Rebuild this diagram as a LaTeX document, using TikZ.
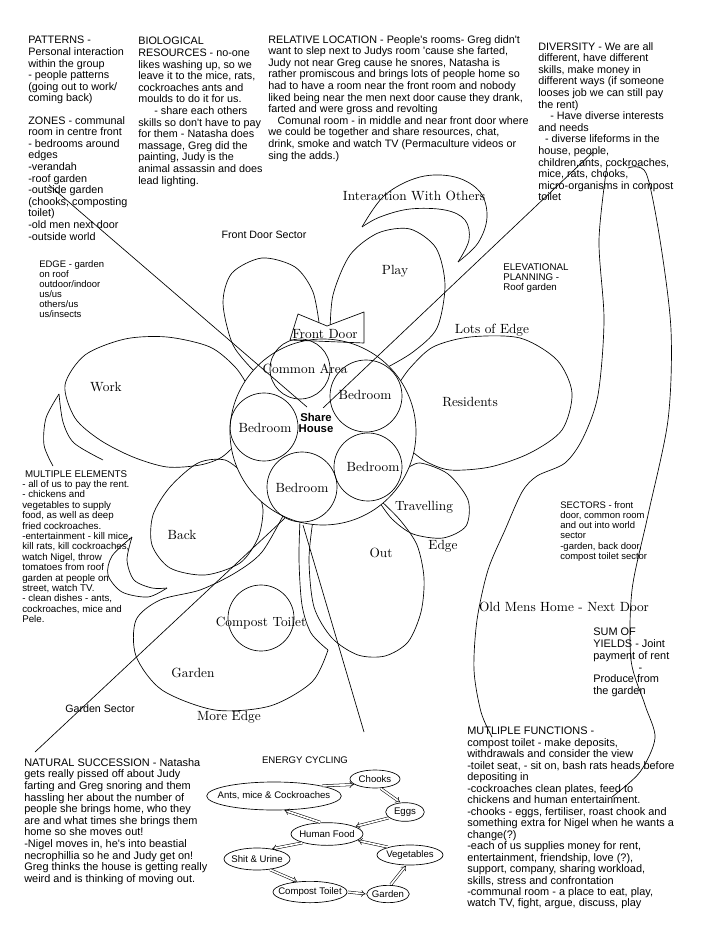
\documentclass[tikz,border=0pt]{standalone}
\usepackage{fontspec}
\newfontfamily\ars{Liberation Sans}
\usetikzlibrary{shapes.geometric,arrows.meta}
\begin{document}
\begin{tikzpicture}[x=0.75pt,y=-0.75pt,line width=0.5pt,line join=round,
  lab/.style={inner sep=0pt,font=\fontsize{10}{12}\selectfont},
  slab/.style={inner sep=0pt,font=\ars\fontsize{8}{9}\selectfont},
  blk/.style={anchor=north west,align=left,inner sep=0pt,font=\ars\fontsize{8.1}{8.7}\selectfont},
  room/.style={circle,draw,inner sep=0pt},
  ecell/.style={ellipse,draw,inner sep=0pt},
  etext/.style={inner sep=0pt,font=\ars\fontsize{7.2}{8}\selectfont},
  flow/.style={double,double distance=1.3pt,line width=0.4pt,-{Implies},shorten <=0.5pt,shorten >=0.5pt}]
\fill[white] (0,0) rectangle (700,930);
\useasboundingbox (0,0) rectangle (700,930);

% ---------- petals ----------
% top-left petal
\draw plot[smooth] coordinates {(255,372) (233,345) (223,303) (232,273) (262,258) (295,267) (313,292) (320,330)};
% play
\draw plot[smooth] coordinates {(330,335) (333,295) (350,255) (378,233) (410,229) (436,248) (445,285) (437,328) (413,352) (386,368)};
% interaction crescent
\draw plot[smooth,tension=0.6] coordinates {(362,227) (385,195) (420,177) (455,177) (480,192) (487,217) (478,243) (458,262)};
\draw plot[smooth,tension=0.6] coordinates {(458,262) (469,240) (465,220) (445,210) (410,209) (380,217) (362,227)};
% residents
\draw plot[smooth] coordinates {(398,385) (410,368) (433,347) (470,337) (520,338) (557,360) (572,393) (562,430) (530,453) (490,467) (450,470) (425,461) (408,448)};
% work
\draw plot[smooth] coordinates {(250,390) (236,368) (210,347) (167,337) (125,339) (85,355) (65,385) (75,418) (100,440) (133,457) (167,467) (200,465) (222,457) (240,440)};
% work tail
\draw plot[smooth] coordinates {(59,394) (46,418) (44,445) (53,466)};
\draw plot[smooth] coordinates {(59,394) (63,422) (74,443) (103,460)};
% back
\draw plot[smooth] coordinates {(245,475) (225,460) (198,463) (170,487) (153,515) (152,545) (170,568) (205,575) (240,563) (258,538) (263,510) (257,488)};
% back tail
\draw plot[smooth] coordinates {(132,537) (112,556) (108,575) (122,592) (148,597) (167,588)};
\draw plot[smooth] coordinates {(132,537) (127,560) (134,580) (152,588) (167,588)};
% travelling
\draw plot[smooth] coordinates {(405,470) (420,463) (448,474) (468,500) (466,526) (443,538) (413,534) (392,519) (378,500)};
% out
\draw plot[smooth] coordinates {(313,520) (309,560) (314,607) (332,638) (358,655) (385,656) (408,642) (421,612) (424,578) (417,545) (400,520) (380,500)};
% garden
\draw plot[smooth] coordinates {(300,520) (299,560) (302,605) (311,633) (328,650)};
\draw plot[smooth] coordinates {(328,650) (312,682) (270,706) (215,710) (162,690) (136,656) (136,620) (160,600) (200,590) (235,573) (262,552) (285,512)};
\node[room,minimum size=49.5pt] (toilet) at (261,618) {};

% ---------- right-hand curves ----------
\draw plot[smooth] coordinates {(607,165) (599,240) (604,320) (598,395) (583,438) (565,463) (537,476) (522,492) (505,530) (488,570) (477,620) (474,670) (481,712) (492,737)};
\draw plot[smooth] coordinates {(628,168) (646,173) (660,240) (671,330) (668,420) (648,515) (632,590) (631,660) (645,705) (655,738) (640,772) (612,797)};

% ---------- share house ----------
\node[circle,fill=white,inner sep=0pt,minimum size=139.5pt] (housefill) at (323,432) {};
\draw[fill=white] (298,314) -- (327,326) -- (364,312) -- (364,343) -- (290,340) -- cycle;
\node[room,minimum size=139.5pt] (house) at (323,432) {};
\node[room,minimum size=45pt] (common) at (300,369) {};
\node[room,minimum size=54pt] (bedtr) at (366,396) {};
\node[room,minimum size=51pt] (bedl) at (264,427) {};
\node[room,minimum size=52.5pt] (bedb) at (302,487) {};
\node[room,minimum size=51pt] (bedr) at (368,467) {};

% ---------- sector lines ----------
\coordinate (la1) at (49,185);  \coordinate (la2) at (307,407);
\coordinate (lb1) at (593,152); \coordinate (lb2) at (323,408);
\coordinate (lc1) at (285,518); \coordinate (lc2) at (35,752);
\coordinate (ld1) at (303,525); \coordinate (ld2) at (364,732);
\draw (la1) -- (la2);
\draw (lb1) -- (lb2);
\draw (lc1) -- (lc2);
\draw (ld1) -- (ld2);

% ---------- flower labels ----------
\node[lab] (tint) at (414,196) {Interaction With Others};
\node[slab] (tfds) at (264,235) {Front Door Sector};
\node[lab] (tplay) at (395,271) {Play};
\node[lab] (tfd) at (325,334) {Front Door};
\node[lab] (tloe) at (492,330) {Lots of Edge};
\node[lab] (tca) at (305,369) {Common Area};
\node[lab] (twork) at (106,387) {Work};
\node[lab] (tres) at (470,402) {Residents};
\node[lab] (tb1) at (365,395) {Bedroom};
\node[lab] (tb2) at (265,428) {Bedroom};
\node[inner sep=0pt,align=center,font=\ars\bfseries\fontsize{8.5}{8.5}\selectfont] (tsh) at (316,423) {Share\\House};
\node[lab] (tb3) at (373,467) {Bedroom};
\node[lab] (tb4) at (302,488) {Bedroom};
\node[lab] (tback) at (182,535) {Back};
\node[lab] (ttrav) at (424,507) {Travelling};
\node[lab] (tedge) at (443,546) {Edge};
\node[lab] (tout) at (381,553) {Out};
\node[lab] (tct) at (261,623) {Compost Toilet};
\node[lab] (tgar) at (193,673) {Garden};
\node[lab] (tme) at (229,717) {More Edge};
\node[slab] (tgs) at (100,709) {Garden Sector};
\node[lab] (tomh) at (564,607) {Old Mens Home - Next Door};

% ---------- text blocks ----------
\node[blk] (patterns) at (28,36) {PATTERNS -\\Personal interaction\\within the group\\- people patterns\\(going out to work/\\coming back)};
\node[blk] (zones) at (28,116) {ZONES - communal\\room in centre front\\- bedrooms around\\edges\\-verandah\\-roof garden\\-outside garden\\(chooks, composting\\toilet)\\-old men next door\\-outside world};
\node[blk] (bio) at (138,37) {BIOLOGICAL\\RESOURCES - no-one\\likes washing up, so we\\leave it to the mice, rats,\\cockroaches ants and\\moulds to do it for us.\\\hspace*{12pt}- share each others\\skills so don't have to pay\\for them - Natasha does\\massage, Greg did the\\painting, Judy is the\\animal assassin and does\\lead lighting.};
\node[blk] (rel) at (268,35) {RELATIVE LOCATION - People's rooms- Greg didn't\\want to slep next to Judys room 'cause she farted,\\Judy not near Greg cause he snores, Natasha is\\rather promiscous and brings lots of people home so\\had to have a room near the front room and nobody\\liked being near the men next door cause they drank,\\farted and were gross and revolting\\\hspace*{7pt}Comunal room - in middle and near front door where\\we could be together and share resources, chat,\\drink, smoke and watch TV (Permaculture videos or\\sing the adds.)};
\node[blk] (div) at (538,42) {DIVERSITY - We are all\\different, have different\\skills, make money in\\different ways (if someone\\looses job we can still pay\\the rent)\\\hspace*{9pt}- Have diverse interests\\and needs\\\hspace*{5pt}- diverse lifeforms in the\\house, people,\\children,ants, cockroaches,\\mice, rats, chooks,\\micro-organisms in compost\\toilet};
\node[blk,font=\ars\fontsize{7.1}{7.5}\selectfont] (edge) at (39,260) {EDGE - garden\\on roof\\outdoor/indoor\\us/us\\others/us\\us/insects};
\node[blk,font=\ars\fontsize{7.3}{7.8}\selectfont] (melem) at (22,470) {\hspace*{2pt}MULTIPLE ELEMENTS\\- all of us to pay the rent.\\- chickens and\\vegetables to supply\\food, as well as deep\\fried cockroaches.\\-entertainment - kill mice,\\kill rats, kill cockroaches,\\watch Nigel, throw\\tomatoes from roof\\garden at people on\\street, watch TV.\\- clean dishes - ants,\\cockroaches, mice and\\Pele.};
\node[blk,font=\ars\fontsize{7.3}{7.7}\selectfont] (elev) at (503,263) {ELEVATIONAL\\PLANNING -\\Roof garden};
\node[blk,font=\ars\fontsize{7.1}{7.7}\selectfont] (sect) at (560,501) {SECTORS - front\\door, common room\\and out into world\\sector\\-garden, back door,\\compost toilet sector};
\node[blk,font=\ars\fontsize{8.2}{8.8}\selectfont] (sum) at (593,628) {SUM OF\\YIELDS - Joint\\payment of rent\\\hspace*{34pt}-\\Produce from\\the garden};
\node[blk,font=\ars\fontsize{8.2}{8.6}\selectfont] (mfun) at (467,727) {MUTLIPLE FUNCTIONS -\\compost toilet - make deposits,\\withdrawals and consider the view\\-toilet seat, - sit on, bash rats heads before\\depositing in\\-cockroaches clean plates, feed to\\chickens and human entertainment.\\-chooks - eggs, fertiliser, roast chook and\\something extra for Nigel when he wants a\\change(?)\\-each of us supplies money for rent,\\entertainment, friendship, love (?),\\support, company, sharing workload,\\skills, stress and confrontation\\-communal room - a place to eat, play,\\watch TV, fight, argue, discuss, play};
\node[blk,font=\ars\fontsize{8.2}{8.7}\selectfont] (nat) at (24,758) {NATURAL SUCCESSION - Natasha\\gets really pissed off about Judy\\farting and Greg snoring and them\\hassling her about the number of\\people she brings home, who they\\are and what times she brings them\\home so she moves out!\\-Nigel moves in, he's into beastial\\necrophillia so he and Judy get on!\\Greg thinks the house is getting really\\weird and is thinking of moving out.};

% ---------- energy cycling ----------
\node[etext] (etitle) at (305,760) {ENERGY CYCLING};
\node[ecell,minimum width=37.5pt,minimum height=13.5pt] (chk) at (375,779) {};
\node[ecell,minimum width=101pt,minimum height=21pt] (ants) at (274,796) {};
\node[ecell,minimum width=29pt,minimum height=14pt] (eggs) at (405,812) {};
\node[ecell,minimum width=54pt,minimum height=17pt] (hf) at (327,834) {};
\node[ecell,minimum width=49.5pt,minimum height=16.5pt] (shit) at (257,859) {};
\node[ecell,minimum width=49.5pt,minimum height=15pt] (veg) at (410,855) {};
\node[ecell,minimum width=55.5pt,minimum height=16pt] (ect) at (310,892) {};
\node[ecell,minimum width=32pt,minimum height=13pt] (gdn) at (388,894) {};
\node[etext] (tchk) at (chk) {Chooks};
\node[etext] (tants) at (ants) {Ants, mice \& Cockroaches};
\node[etext] (teggs) at (eggs) {Eggs};
\node[etext] (thf) at (hf) {Human Food};
\node[etext] (tshit) at (shit) {Shit \& Urine};
\node[etext] (tveg) at (veg) {Vegetables};
\node[etext] (tect) at (ect) {Compost Toilet};
\node[etext] (tgdn) at (gdn) {Garden};
\draw[flow] (ants.12) -- (chk.195);
\draw[flow] (chk.-60) -- (eggs.115);
\draw[flow] (eggs.200) -- (hf.15);
\draw[flow] (hf.118) -- (ants.-55);
\draw[flow] (hf.200) -- (shit.35);
\draw[flow] (shit.-40) -- (ect.140);
\draw[flow] (ect.0) -- (gdn.180);
\draw[flow] (gdn.75) -- (veg.-110);
\draw[flow] (veg.160) -- (hf.-12);
\end{tikzpicture}
\end{document}
